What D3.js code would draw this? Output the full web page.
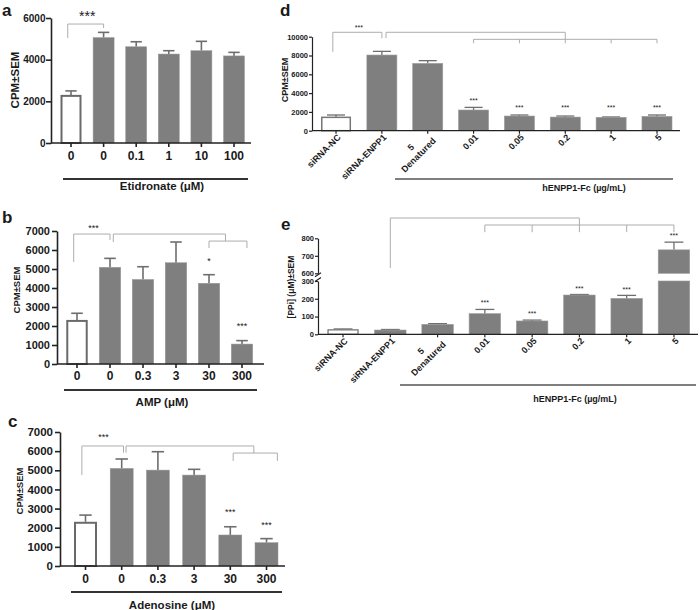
<!DOCTYPE html>
<html><head><meta charset="utf-8">
<script src="https://cdn.jsdelivr.net/npm/d3@7"></script>
<style>
body{margin:0;background:#fff}
svg{display:block}
text{font-family:"Liberation Sans",Arial,Helvetica,sans-serif;font-weight:bold;fill:#1a1a1a}
</style>
</head><body>
<svg id="chart" width="700" height="610"></svg>
<script>
// ---------------- DATA ----------------
const catsA = ["0","0","0.1","1","10","100"];
const meanA = [2310,5060,4620,4270,4430,4180];
const semA  = [190,250,240,160,450,170];
const ticksA = [0,2000,4000,6000];

const catsB = ["0","0","0.3","3","30","300"];
const meanB = [2320,5090,4450,5330,4250,1050];
const semB  = [350,470,670,1090,450,180];
const ticksB = [0,1000,2000,3000,4000,5000,6000,7000];

const catsC = ["0","0","0.3","3","30","300"];
const meanC = [2310,5100,5010,4750,1620,1220];
const semC  = [350,490,960,300,430,210];
const ticksC = [0,1000,2000,3000,4000,5000,6000,7000];

const catsD = ["siRNA-NC","siRNA-ENPP1","5\nDenatured","0.01","0.05","0.2","1","5"];
const meanD = [1420,8050,7160,2200,1560,1450,1420,1520];
const semD  = [250,390,290,280,110,110,40,150];
const ticksD = [0,2000,4000,6000,8000,10000];

const catsE = ["siRNA-NC","siRNA-ENPP1","5\nDenatured","0.01","0.05","0.2","1","5"];
const meanE = [25,24,56,116,75,221,202,734];
const semE  = [5,3,4,24,5,3,17,44];
const ticksELow = [0,100,200,300];
const ticksEHigh = [600,700,800];

// significance brackets (bar index positions, data-unit heights)
const bracketsA = [{xs:[-0.1,1], top:5710, legs:[5040,5520]}];
const bracketsB = [{xs:[-0.1,1], top:6840, legs:[5370,6530]},
                   {xs:[1.1,4.5], top:6840, legs:[6420,6470]},
                   {xs:[4,5.15], top:6470, legs:[6100,6100]}];
const bracketsC = [{xs:[-0.1,1.05], top:6270, legs:[4750,5920]},
                   {xs:[1.12,4.65], top:6270, legs:[5920,5900]},
                   {xs:[4.08,5.3], top:5900, legs:[5490,5490]}];
const bracketsD = [{xs:[-0.07,1], top:10470, legs:[8400,9830]},
                   {xs:[1.09,5], top:10470, legs:[9860,9720]},
                   {xs:[3,4,5,6,7], top:9720, legs:[9300,9300,9300,9300,9300]}];
const bracketsE = [{xs:[1,5], top:916, legs:[630,876]},
                   {xs:[3,4,5,6,7], top:876, legs:[835,835,835,835,835]}];

const starsA = [{at:0.5, v:6240, s:"***"}];
const starsB = [{at:0.5, v:7263, s:"***"},{at:4, v:5526, s:"*"},{at:5, v:2105, s:"***"}];
const starsC = [{at:0.5, v:6844, s:"***"},{at:4, v:2926, s:"***"},{at:5, v:2247, s:"***"}];
const starsD = [{at:0.5, v:11170, s:"***"},{at:3, v:3362, s:"***"},{at:4, v:2617, s:"***"},
                {at:5, v:2617, s:"***"},{at:6, v:2617, s:"***"},{at:7, v:2617, s:"***"}];
const starsE = [{at:3, v:187, s:"***"},{at:4, v:127, s:"***"},{at:5, v:267, s:"***"},
                {at:6, v:262, s:"***"},{at:7, v:825, s:"***", high:true}];

// ---------------- DRAW ----------------
const svg = d3.select("#chart");
const GRAY = "#7f7f7f", ERR = "#6e6e6e", AX = "#222", BR = "#adadad";
const fmt = d3.format("d");

function styleAxis(sel, fs, sw){
  sel.attr("font-family",null).attr("font-size",null);
  sel.selectAll("path,line").attr("stroke",AX).attr("stroke-width",sw);
  sel.selectAll("text").style("font-size",fs+"px").attr("fill","#1a1a1a");
}
function label(x,y,s,fs,opts={}){
  const t = svg.append("text").attr("x",x).attr("y",y).text(s).style("font-size",fs+"px")
    .attr("text-anchor",opts.anchor||"middle").attr("fill","#1a1a1a");
  if(opts.rot) t.attr("transform",`rotate(${opts.rot},${x},${y})`);
  return t;
}
function drawBrackets(g, list, cx, yf){
  list.forEach(b=>{
    const xs=b.xs.map(cx);
    g.append("line").attr("x1",d3.min(xs)).attr("x2",d3.max(xs)).attr("y1",yf(b.top)).attr("y2",yf(b.top))
      .attr("stroke",BR).attr("stroke-width",1);
    xs.forEach((xx,k)=>g.append("line").attr("x1",xx).attr("x2",xx).attr("y1",yf(b.top)).attr("y2",yf(b.legs[k]))
      .attr("stroke",BR).attr("stroke-width",1));
  });
}
function drawStars(g, list, cx, yf, fs){
  list.forEach(s=>{
    g.append("text").attr("x",cx(s.at)).attr("y",yf(s.v,s)+0.58*fs).attr("text-anchor","middle")
      .style("font-size",fs+"px").attr("fill","#444").style("font-weight","normal").text(s.s);
  });
}

function simplePanel(cfg){
  const n = cfg.cats.length;
  const g = svg.append("g");
  const x = d3.scaleBand().domain(d3.range(n)).range(cfg.band).paddingInner(cfg.pi).paddingOuter(cfg.pi/2);
  const y = d3.scaleLinear().domain([0,cfg.yMax]).range([cfg.y0,cfg.yTop]);
  const bw = x.bandwidth(), step = x.step();
  const cx = i => x(0)+bw/2+i*step;
  cfg.mean.forEach((m,i)=>{
    const top = y(m+cfg.sem[i]);
    g.append("line").attr("x1",cx(i)).attr("x2",cx(i)).attr("y1",y(m)).attr("y2",top).attr("stroke",ERR).attr("stroke-width",cfg.ew);
    g.append("line").attr("x1",cx(i)-bw*0.27).attr("x2",cx(i)+bw*0.27).attr("y1",top).attr("y2",top).attr("stroke",ERR).attr("stroke-width",cfg.ew);
    if(i===0){
      g.append("rect").attr("x",x(i)+cfg.wsw/2).attr("y",y(m)+cfg.wsw/2).attr("width",bw-cfg.wsw).attr("height",cfg.y0-y(m)-cfg.wsw/2)
        .attr("fill","#fff").attr("stroke","#6a6a6a").attr("stroke-width",cfg.wsw);
    } else {
      g.append("rect").attr("x",x(i)).attr("y",y(m)).attr("width",bw).attr("height",cfg.y0-y(m))
        .attr("fill",GRAY).attr("stroke","#999").attr("stroke-width",0.5);
    }
  });
  const ya = g.append("g").attr("transform",`translate(${cfg.axX},0)`)
    .call(d3.axisLeft(y).tickValues(cfg.ticks).tickFormat(fmt).tickSize(cfg.ts).tickPadding(cfg.ypad).tickSizeOuter(0));
  styleAxis(ya, cfg.yfs, cfg.asw);
  const xa = g.append("g").attr("transform",`translate(0,${cfg.y0})`)
    .call(d3.axisBottom(x).tickSize(4).tickPadding(cfg.xpad).tickFormat(i=>cfg.cats[i]));
  xa.select(".domain").remove();
  styleAxis(xa, cfg.xfs, cfg.asw);
  g.append("line").attr("x1",cfg.axX).attr("x2",cfg.xEnd).attr("y1",cfg.y0).attr("y2",cfg.y0).attr("stroke",AX).attr("stroke-width",cfg.asw);
  drawBrackets(g, cfg.brackets, cx, y);
  drawStars(g, cfg.stars, cx, v=>y(v), cfg.sfs);
}

simplePanel({cats:catsA, mean:meanA, sem:semA, ticks:ticksA, yMax:6000, y0:143, yTop:18,
  band:[54.7,250.3], pi:0.356, axX:51, xEnd:251, ts:5, ypad:0.5, yfs:10, xfs:12, xpad:4, asw:1.6, ew:1.6, wsw:2,
  brackets:bracketsA, stars:starsA, sfs:14});
simplePanel({cats:catsB, mean:meanB, sem:semB, ticks:ticksB, yMax:7000, y0:364, yTop:231,
  band:[60.5,258.5], pi:0.35, axX:57, xEnd:264, ts:5, ypad:2, yfs:11, xfs:12, xpad:3.5, asw:1.6, ew:1.6, wsw:2,
  brackets:bracketsB, stars:starsB, sfs:9});
simplePanel({cats:catsC, mean:meanC, sem:semC, ticks:ticksC, yMax:7000, y0:566, yTop:432,
  band:[67.4,284.6], pi:0.365, axX:60, xEnd:285, ts:5, ypad:2, yfs:11.5, xfs:12, xpad:4.5, asw:1.6, ew:1.6, wsw:2,
  brackets:bracketsC, stars:starsC, sfs:9});

[[63,248,179,"Etidronate (\u03bcM)",162,190],[64,257,390,"AMP (\u03bcM)",162,406],[71,282,592,"Adenosine (\u03bcM)",172,609]]
.forEach(([x1,x2,yy,s,lx,ly])=>{
  svg.append("line").attr("x1",x1).attr("x2",x2).attr("y1",yy).attr("y2",yy).attr("stroke","#333").attr("stroke-width",1.8);
  label(lx,ly,s,11.5);
});
label(19,80,"CPM\u00b1SEM",11.5,{rot:-90});
label(20,290,"CPM\u00b1SEM",9.5,{rot:-90});
label(23,491,"CPM\u00b1SEM",9.5,{rot:-90});

label(2,16,"a",17,{anchor:"start"});
label(2,223,"b",17,{anchor:"start"});
label(8,427,"c",17,{anchor:"start"});
label(280,16,"d",17,{anchor:"start"});
label(281,230,"e",17,{anchor:"start"});

function rotLabels(g, cats, cx, y0){
  cats.forEach((c,i)=>{
    const lines = c.split("\n");
    const gg = g.append("g").attr("transform",`translate(${cx(i)+3},${y0+5}) rotate(-45)`);
    if(lines.length===1){
      gg.append("text").attr("text-anchor","end").attr("dy","0.35em").style("font-size","9px").attr("fill","#1a1a1a").text(lines[0]);
    } else {
      const t2 = gg.append("text").attr("text-anchor","end").attr("dy","0.9em").style("font-size","9px").attr("fill","#1a1a1a").text(lines[1]);
      const L = t2.node().getComputedTextLength();
      gg.append("text").attr("x",-L/2).attr("text-anchor","middle").attr("dy","-0.3em").style("font-size","9px").attr("fill","#1a1a1a").text(lines[0]);
    }
  });
}

// panel d
(function(){
  const g = svg.append("g");
  const n = catsD.length, y0 = 130.7;
  const x = d3.scaleBand().domain(d3.range(n)).range([313.1,679.9]).paddingInner(0.345).paddingOuter(0.1725);
  const y = d3.scaleLinear().domain([0,10000]).range([y0,36.7]);
  const bw = x.bandwidth(), step = x.step();
  const cx = i => x(0)+bw/2+i*step;
  meanD.forEach((m,i)=>{
    const top = y(m+semD[i]);
    g.append("line").attr("x1",cx(i)).attr("x2",cx(i)).attr("y1",y(m)).attr("y2",top).attr("stroke",ERR).attr("stroke-width",1.3);
    g.append("line").attr("x1",cx(i)-bw*0.3).attr("x2",cx(i)+bw*0.3).attr("y1",top).attr("y2",top).attr("stroke",ERR).attr("stroke-width",1.3);
    if(i===0) g.append("rect").attr("x",x(i)+0.75).attr("y",y(m)).attr("width",bw-1.5).attr("height",y0-y(m))
      .attr("fill","#fff").attr("stroke","#777").attr("stroke-width",1.5);
    else g.append("rect").attr("x",x(i)).attr("y",y(m)).attr("width",bw).attr("height",y0-y(m))
      .attr("fill",GRAY).attr("stroke","#9a9a9a").attr("stroke-width",0.6);
  });
  const ya = g.append("g").attr("transform","translate(312,0)")
    .call(d3.axisLeft(y).tickValues(ticksD).tickFormat(fmt).tickSize(3).tickPadding(1).tickSizeOuter(0));
  styleAxis(ya,7.5,1.2);
  const xa = g.append("g").attr("transform",`translate(0,${y0})`).call(d3.axisBottom(x).tickSize(3).tickFormat(""));
  xa.select(".domain").remove();
  styleAxis(xa,9,1.2);
  g.append("line").attr("x1",312).attr("x2",680).attr("y1",y0).attr("y2",y0).attr("stroke",AX).attr("stroke-width",1.2);
  rotLabels(g, catsD, cx, y0);
  drawBrackets(g, bracketsD, cx, y);
  drawStars(g, starsD, cx, v=>y(v), 7);
  g.append("line").attr("x1",395).attr("x2",673).attr("y1",179).attr("y2",179).attr("stroke","#555").attr("stroke-width",1.3);
  label(584,191,"hENPP1-Fc (\u00b5g/mL)",9);
  label(288,80,"CPM\u00b1SEM",9,{rot:-90});
})();

// panel e (broken axis)
(function(){
  const g = svg.append("g");
  const n = catsE.length, y0 = 334.3;
  const x = d3.scaleBand().domain(d3.range(n)).range([319.4,697.6]).paddingInner(0.334).paddingOuter(0.167);
  const yL = d3.scaleLinear().domain([0,300]).range([y0,281]);
  const yH = d3.scaleLinear().domain([600,800]).range([273.3,238.3]);
  const bw = x.bandwidth(), step = x.step();
  const cx = i => x(0)+bw/2+i*step;
  meanE.forEach((m,i)=>{
    const high = m>300;
    const ys = high ? yH : yL;
    const top = ys(m+semE[i]);
    g.append("line").attr("x1",cx(i)).attr("x2",cx(i)).attr("y1",ys(m)).attr("y2",top).attr("stroke",ERR).attr("stroke-width",1.3);
    g.append("line").attr("x1",cx(i)-bw*0.3).attr("x2",cx(i)+bw*0.3).attr("y1",top).attr("y2",top).attr("stroke",ERR).attr("stroke-width",1.3);
    if(i===0) g.append("rect").attr("x",x(i)+0.75).attr("y",yL(m)).attr("width",bw-1.5).attr("height",y0-yL(m))
      .attr("fill","#fff").attr("stroke","#777").attr("stroke-width",1.3);
    else if(high){
      g.append("rect").attr("x",x(i)).attr("y",yL(300)).attr("width",bw).attr("height",y0-yL(300))
        .attr("fill",GRAY).attr("stroke","#9a9a9a").attr("stroke-width",0.6);
      g.append("rect").attr("x",x(i)).attr("y",yH(m)).attr("width",bw).attr("height",yH(600)-yH(m))
        .attr("fill",GRAY).attr("stroke","#9a9a9a").attr("stroke-width",0.6);
    } else g.append("rect").attr("x",x(i)).attr("y",yL(m)).attr("width",bw).attr("height",y0-yL(m))
      .attr("fill",GRAY).attr("stroke","#9a9a9a").attr("stroke-width",0.6);
  });
  const yaL = g.append("g").attr("transform","translate(318,0)")
    .call(d3.axisLeft(yL).tickValues(ticksELow).tickFormat(fmt).tickSize(3).tickPadding(1).tickSizeOuter(0));
  styleAxis(yaL,7.5,1.2);
  const yaH = g.append("g").attr("transform","translate(318,0)")
    .call(d3.axisLeft(yH).tickValues(ticksEHigh).tickFormat(fmt).tickSize(3).tickPadding(1).tickSizeOuter(0));
  styleAxis(yaH,7.5,1.2);
  [yH(600)+1.5, yL(300)-1.5].forEach(yy=>{
    g.append("line").attr("x1",315).attr("x2",321).attr("y1",yy+2).attr("y2",yy-2).attr("stroke",AX).attr("stroke-width",1.1);
  });
  const xa = g.append("g").attr("transform",`translate(0,${y0})`).call(d3.axisBottom(x).tickSize(3).tickFormat(""));
  xa.select(".domain").remove();
  styleAxis(xa,9,1.2);
  g.append("line").attr("x1",318).attr("x2",698).attr("y1",y0).attr("y2",y0).attr("stroke",AX).attr("stroke-width",1.2);
  rotLabels(g, catsE, cx, y0);
  drawBrackets(g, bracketsE, cx, yH);
  drawStars(g, starsE, cx, (v,s)=> s.high ? yH(v) : yL(v), 7);
  g.append("line").attr("x1",400).attr("x2",696).attr("y1",385).attr("y2",385).attr("stroke","#555").attr("stroke-width",1.3);
  label(575,402,"hENPP1-Fc (\u00b5g/mL)",9);
  label(294,287,"[PPi] (\u03bcM)\u00b1SEM",8.5,{rot:-90});
})();
</script>
</body></html>
